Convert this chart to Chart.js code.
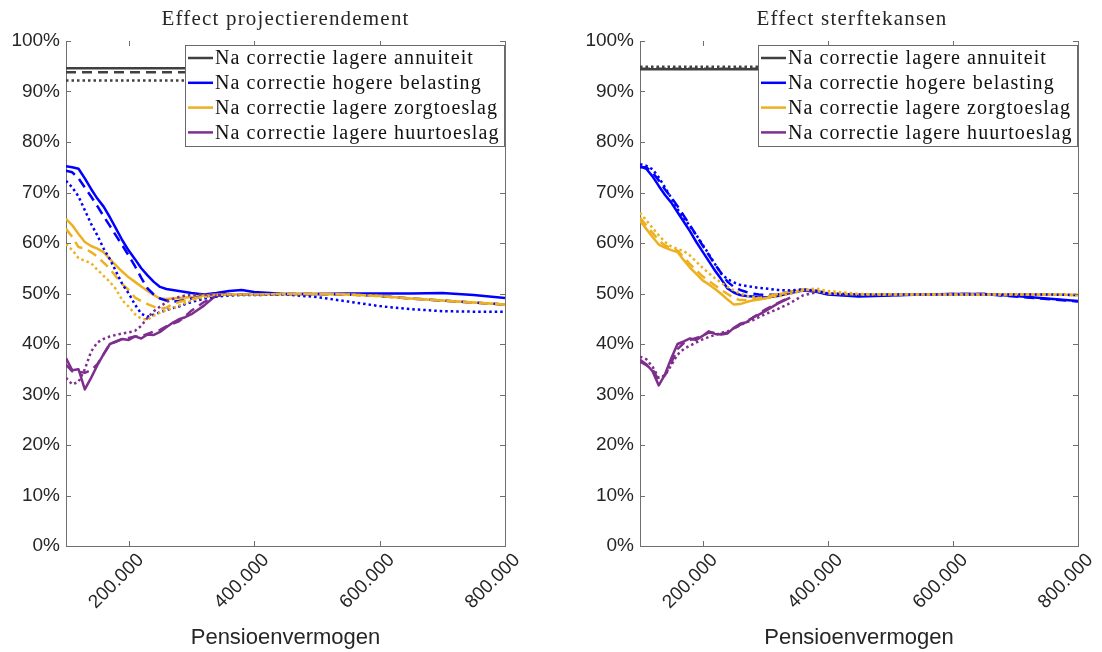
<!DOCTYPE html>
<html>
<head>
<meta charset="utf-8">
<script src="https://cdn.jsdelivr.net/npm/chart.js@4.4.1/dist/chart.umd.min.js"></script>
<style>
  html, body { margin: 0; padding: 0; background: #ffffff; }
  #wrap { position: relative; width: 1102px; height: 652px; overflow: hidden; }
  canvas { position: absolute; top: 0; }
</style>
</head>
<body>
<div id="wrap">
  <canvas id="chartProj" width="551" height="652" style="left:0px"></canvas>
  <canvas id="chartSterfte" width="551" height="652" style="left:551px"></canvas>
</div>
<script>
// Pensioenvermogen grid (euro)
const wealth = [100000, 110000, 120000, 130000, 140000, 150000, 160000, 170000, 180000, 190000,
                200000, 210000, 220000, 230000, 240000, 250000, 260000, 270000, 280000, 290000,
                300000, 320000, 340000, 360000, 380000, 400000, 450000, 500000, 550000, 600000,
                650000, 700000, 750000, 800000];
const wealthEnds = [100000, 800000];

const xTickValues = [200000, 400000, 600000, 800000];
const xTickLabels = ['200.000', '400.000', '600.000', '800.000'];
const yTickValues = [0, 10, 20, 30, 40, 50, 60, 70, 80, 90, 100];
const yTickLabels = ['0%', '10%', '20%', '30%', '40%', '50%', '60%', '70%', '80%', '90%', '100%'];

const seriesLabels = ['Na correctie lagere annuiteit', 'Na correctie hogere belasting',
                      'Na correctie lagere zorgtoeslag', 'Na correctie lagere huurtoeslag'];
const chartTitles = ['Effect projectierendement', 'Effect sterftekansen'];
const xAxisTitle = 'Pensioenvermogen';

// ---- Effect projectierendement (percentages) ----
const projAnnuiteitSolid  = [94.6, 94.6];
const projAnnuiteitDashed = [93.8, 93.8];
const projAnnuiteitDotted = [92.2, 92.2];

const projBelastingSolid  = [75.2, 75.0, 74.7, 72.8, 70.7, 68.8, 67.2, 65.1, 62.8, 60.5,
                             58.5, 56.8, 55.0, 53.6, 52.3, 51.3, 50.9, 50.7, 50.5, 50.3,
                             50.1, 49.8, 50.1, 50.5, 50.7, 50.3, 49.9, 49.9, 50.0, 50.0,
                             50.0, 50.1, 49.7, 49.1];
const projBelastingDashed = [74.3, 74.0, 72.8, 71.0, 69.2, 67.3, 65.3, 63.4, 61.4, 59.5,
                             57.5, 55.4, 53.1, 51.0, 49.8, 49.0, 48.6, 48.4, 48.5, 48.7,
                             49.0, 49.4, 49.7, 49.8, 49.8, 49.8, 49.9, 49.9, 49.8, 49.5,
                             49.0, 48.6, 48.2, 47.8];
const projBelastingDotted = [72.3, 71.0, 69.2, 66.5, 63.8, 61.5, 58.9, 56.8, 54.3, 51.8,
                             50.0, 47.8, 46.0, 45.4, 45.8, 46.3, 46.7, 47.1, 47.4, 47.9,
                             48.3, 49.0, 49.4, 49.6, 49.7, 49.7, 49.8, 49.3, 48.4, 47.5,
                             46.9, 46.5, 46.4, 46.4];

const projZorgSolid  = [64.8, 63.5, 61.8, 60.2, 59.4, 58.9, 58.2, 56.8, 55.5, 54.3,
                        53.2, 52.3, 51.4, 50.5, 49.7, 49.0, 48.9, 49.0, 49.1, 49.2,
                        49.3, 49.6, 49.8, 49.8, 49.8, 49.8, 49.9, 49.9, 49.8, 49.5,
                        49.0, 48.6, 48.2, 47.8];
const projZorgDashed = [62.8, 61.2, 59.2, 58.9, 58.2, 57.3, 56.1, 54.9, 53.3, 51.8,
                        50.7, 49.2, 48.5, 47.9, 47.4, 47.0, 47.2, 47.9, 48.3, 48.6,
                        48.9, 49.4, 49.7, 49.8, 49.8, 49.8, 49.9, 49.9, 49.8, 49.5,
                        49.0, 48.6, 48.2, 47.8];
const projZorgDotted = [59.8, 58.6, 57.0, 56.5, 56.0, 54.7, 53.5, 52.3, 50.8, 48.6,
                        47.4, 45.9, 45.0, 44.8, 45.6, 46.2, 46.7, 47.1, 47.6, 48.1,
                        48.6, 49.3, 49.7, 49.8, 49.8, 49.8, 49.9, 49.9, 49.8, 49.5,
                        49.0, 48.6, 48.2, 47.8];

const projHuurSolid  = [37.2, 34.8, 35.0, 31.0, 33.3, 35.8, 38.0, 40.0, 40.5, 41.0,
                        40.8, 41.5, 41.1, 41.9, 41.8, 42.4, 43.3, 44.2, 44.9, 45.3,
                        45.9, 47.6, 49.7, 49.9, null, null, null, null, null, null,
                        null, null, null, null];
const projHuurDashed = [35.9, 34.6, 34.5, 34.3, 34.8, 36.0, 38.0, 40.0, 40.5, 41.0,
                        41.2, 41.5, 41.5, 42.0, 42.5, 42.8, 43.5, 44.0, 44.5, 45.5,
                        46.6, 48.3, 49.5, 49.8, null, null, null, null, null, null,
                        null, null, null, null];
const projHuurDotted = [33.3, 32.0, 32.5, 35.0, 38.5, 40.3, 41.0, 41.5, 41.8, 42.1,
                        42.3, 42.6, 43.6, 45.2, 46.5, 47.4, 48.3, 48.9, 49.3, 49.6,
                        49.7, 49.8, 49.8, null, null, null, null, null, null, null,
                        null, null, null, null];

// ---- Effect sterftekansen (percentages) ----
const sterfAnnuiteitSolid  = [94.4, 94.4];
const sterfAnnuiteitDashed = [94.5, 94.5];
const sterfAnnuiteitDotted = [94.9, 94.9];

const sterfBelastingSolid  = [75.2, 74.7, 73.2, 71.3, 69.5, 68.0, 66.1, 64.2, 62.3, 60.2,
                              58.3, 56.4, 54.5, 52.8, 51.0, 50.2, 49.7, 49.5, 49.4, 49.3,
                              49.2, 49.5, 50.1, 50.6, 50.4, 49.8, 49.4, 49.6, 49.8, 49.9,
                              49.9, 49.5, 49.0, 48.5];
const sterfBelastingDashed = [75.0, 75.0, 74.0, 72.4, 70.6, 69.0, 67.3, 65.4, 63.5, 61.5,
                              59.5, 57.6, 55.7, 54.0, 52.3, 51.3, 50.7, 50.3, 50.0, 49.8,
                              49.7, 49.8, 50.3, 50.7, 50.5, 49.9, 49.5, 49.7, 49.8, 49.9,
                              49.9, 49.4, 48.9, 48.4];
const sterfBelastingDotted = [75.6, 75.3, 74.6, 73.0, 71.0, 68.9, 66.7, 65.0, 63.3, 61.6,
                              59.7, 57.8, 55.8, 53.9, 52.8, 52.2, 51.7, 51.5, 51.3, 51.1,
                              51.0, 50.7, 50.6, 50.8, 50.6, 50.0, 49.8, 49.8, 49.8, 49.8,
                              49.8, 49.8, 49.8, 49.7];

const sterfZorgSolid  = [64.4, 62.8, 61.2, 59.7, 59.1, 58.6, 58.2, 56.6, 55.1, 53.9,
                         52.6, 51.8, 50.9, 49.9, 48.8, 47.8, 47.9, 48.3, 48.6, 48.8,
                         49.0, 49.8, 50.3, 50.7, 50.6, 50.0, 49.8, 49.8, 49.8, 49.8,
                         49.8, 49.8, 49.8, 49.7];
const sterfZorgDashed = [65.0, 63.5, 62.0, 60.5, 59.5, 59.0, 58.5, 57.2, 55.8, 54.6,
                         53.4, 52.5, 51.6, 50.7, 49.9, 49.1, 48.7, 48.7, 48.9, 49.1,
                         49.3, 49.9, 50.4, 50.8, 50.6, 50.0, 49.8, 49.8, 49.8, 49.8,
                         49.8, 49.8, 49.8, 49.7];
const sterfZorgDotted = [66.0, 64.5, 63.0, 61.5, 60.2, 59.3, 58.8, 58.4, 57.5, 56.3,
                         55.1, 54.0, 53.0, 52.1, 51.3, 50.6, 50.0, 49.6, 49.3, 49.1,
                         49.0, 49.4, 49.9, 50.6, 51.0, 50.5, 49.9, 49.8, 49.8, 49.8,
                         49.8, 49.8, 49.8, 49.7];

const sterfHuurSolid  = [36.9, 36.0, 34.6, 31.8, 34.0, 37.2, 40.0, 40.5, 41.1, 40.8,
                         41.6, 42.5, 42.0, 41.9, 42.1, 43.2, 44.0, 44.3, 45.2, 45.8,
                         46.5, 48.0, 49.2, null, null, null, null, null, null, null,
                         null, null, null, null];
const sterfHuurDashed = [36.5, 35.8, 35.0, 32.8, 33.8, 36.3, 39.0, 40.2, 40.8, 41.2,
                         41.6, 42.3, 42.2, 42.0, 42.3, 43.0, 43.8, 44.5, 45.2, 46.0,
                         46.8, 48.1, 49.3, null, null, null, null, null, null, null,
                         null, null, null, null];
const sterfHuurDotted = [37.5, 37.0, 35.5, 33.3, 33.8, 35.8, 37.9, 39.0, 39.7, 40.3,
                         40.9, 41.4, 41.8, 42.2, 42.5, 43.1, 43.7, 44.3, 44.7, 45.3,
                         45.9, 46.9, 48.1, 49.6, 50.2, null, null, null, null, null,
                         null, null, null, null];

// ---- styling ----
const colors = ['#404040', '#0000ff', '#edb120', '#7e2f8e'];
const dashes = { solid: [], dashed: [10, 6], dotted: [2.5, 3] };
const axisColor = '#6f6f6f';
const textColor = '#262626';
const sansFont = "'Liberation Sans', Arial, sans-serif";
const serifFont = "'Liberation Serif', 'Times New Roman', serif";

function makeDatasets(groups) {
  // groups: [style, [annuiteit, belasting, zorg, huur]] in drawing order
  const list = [];
  groups.forEach(([style, arrays]) => {
    arrays.forEach((ys, k) => {
      const xs = ys.length === 2 ? wealthEnds : wealth;
      list.push({
        label: seriesLabels[k],
        data: xs.map((x, i) => ({ x: x, y: ys[i] })),
        borderColor: colors[k],
        backgroundColor: colors[k],
        borderWidth: 2.5,
        borderDash: dashes[style],
        pointRadius: 0,
        fill: false,
        spanGaps: false,
        inLegend: style === 'solid'
      });
    });
  });
  // later series are painted over earlier ones
  list.forEach((d, i) => { d.order = list.length - i; });
  return list;
}

const framePlugin = {
  id: 'frame',
  afterDraw(chart, args, opts) {
    const { ctx, chartArea, scales } = chart;
    const { left, right, top, bottom } = chartArea;
    const tick = 5;
    ctx.save();
    ctx.strokeStyle = axisColor;
    ctx.lineWidth = 1;
    ctx.beginPath();
    ctx.moveTo(right + 0.5, top);
    ctx.lineTo(right + 0.5, bottom);
    xTickValues.forEach(v => {
      const px = Math.round(scales.x.getPixelForValue(v)) + 0.5;
      ctx.moveTo(px, bottom); ctx.lineTo(px, bottom - tick);
      ctx.moveTo(px, top); ctx.lineTo(px, top + tick);
    });
    yTickValues.forEach(v => {
      const py = Math.round(scales.y.getPixelForValue(v)) + 0.5;
      ctx.moveTo(left, py); ctx.lineTo(left + tick, py);
      ctx.moveTo(right, py); ctx.lineTo(right - tick, py);
    });
    ctx.stroke();

    // title
    ctx.fillStyle = textColor;
    ctx.font = '21px ' + serifFont;
    ctx.letterSpacing = '1.2px';
    ctx.textAlign = 'center';
    ctx.textBaseline = 'alphabetic';
    ctx.fillText(opts.title, (left + right) / 2 + opts.titleShift, 25);

    // legend box in the upper right corner
    const items = chart.data.datasets.filter(d => d.inLegend);
    ctx.font = '20px ' + serifFont;
    ctx.letterSpacing = '1.1px';
    const textW = Math.max(...items.map(d => ctx.measureText(d.label).width));
    const sample = 25, padL = 3, gap = 2, padR = 4, rowH = 24.8;
    const boxR = right - 1;
    const boxL = Math.round(boxR - (padL + sample + gap + textW + padR));
    const boxT = top + 4;
    const boxH = 101;
    ctx.fillStyle = '#ffffff';
    ctx.fillRect(boxL, boxT, boxR - boxL, boxH);
    ctx.strokeStyle = '#6a6a6a';
    ctx.lineWidth = 1;
    ctx.strokeRect(boxL + 0.5, boxT + 0.5, boxR - boxL, boxH);
    items.forEach((d, i) => {
      const cy = boxT + 13 + i * rowH;
      ctx.strokeStyle = d.borderColor;
      ctx.lineWidth = 2.5;
      ctx.setLineDash([]);
      ctx.beginPath();
      ctx.moveTo(boxL + padL, cy);
      ctx.lineTo(boxL + padL + sample, cy);
      ctx.stroke();
      ctx.fillStyle = '#111111';
      ctx.textAlign = 'left';
      ctx.textBaseline = 'middle';
      ctx.fillText(d.label, boxL + padL + sample + gap, cy + 1);
    });
    ctx.restore();
  }
};

function makeChart(canvasId, title, titleShift, datasets, yAxisWidth, padRight) {
  return new Chart(document.getElementById(canvasId), {
    type: 'line',
    data: { datasets: datasets },
    plugins: [framePlugin],
    options: {
      responsive: false,
      animation: false,
      devicePixelRatio: 1,
      layout: { padding: { top: 41, right: padRight, left: 0, bottom: 0 } },
      elements: { line: { tension: 0, borderCapStyle: 'butt', borderJoinStyle: 'round' } },
      plugins: {
        legend: { display: false },
        title: { display: false },
        tooltip: { enabled: false },
        frame: { title: title, titleShift: titleShift }
      },
      scales: {
        x: {
          type: 'linear',
          min: wealthEnds[0],
          max: wealthEnds[1],
          afterBuildTicks: s => { s.ticks = xTickValues.map(v => ({ value: v })); },
          afterFit: s => { s.height = 106; },
          grid: { display: false, drawTicks: false },
          border: { display: true, color: axisColor, width: 1 },
          ticks: {
            autoSkip: false, minRotation: 45, maxRotation: 45, padding: 3, labelOffset: 12,
            color: textColor, font: { family: sansFont, size: 19 },
            callback: v => xTickLabels[xTickValues.indexOf(v)]
          },
          title: {
            display: true, text: xAxisTitle, color: textColor,
            font: { family: sansFont, size: 22 }, padding: { top: 0, bottom: 1 }
          }
        },
        y: {
          min: 0,
          max: 100,
          afterBuildTicks: s => { s.ticks = yTickValues.map(v => ({ value: v })); },
          afterFit: s => { s.width = yAxisWidth; },
          grid: { display: false, drawTicks: false },
          border: { display: true, color: axisColor, width: 1 },
          ticks: {
            padding: 6, color: textColor, font: { family: sansFont, size: 19 },
            callback: v => yTickLabels[yTickValues.indexOf(v)]
          }
        }
      }
    }
  });
}

makeChart('chartProj', chartTitles[0], 0, makeDatasets([
  ['solid',  [projAnnuiteitSolid,  projBelastingSolid,  projZorgSolid,  projHuurSolid]],
  ['dashed', [projAnnuiteitDashed, projBelastingDashed, projZorgDashed, projHuurDashed]],
  ['dotted', [projAnnuiteitDotted, projBelastingDotted, projZorgDotted, projHuurDotted]]
]), 66, 46);

makeChart('chartSterfte', chartTitles[1], -7, makeDatasets([
  ['solid',  [sterfAnnuiteitSolid,  sterfBelastingSolid,  sterfZorgSolid,  sterfHuurSolid]],
  ['dashed', [sterfAnnuiteitDashed, sterfBelastingDashed, sterfZorgDashed, sterfHuurDashed]],
  ['dotted', [sterfAnnuiteitDotted, sterfBelastingDotted, sterfZorgDotted, sterfHuurDotted]]
]), 89, 24);
</script>
</body>
</html>
